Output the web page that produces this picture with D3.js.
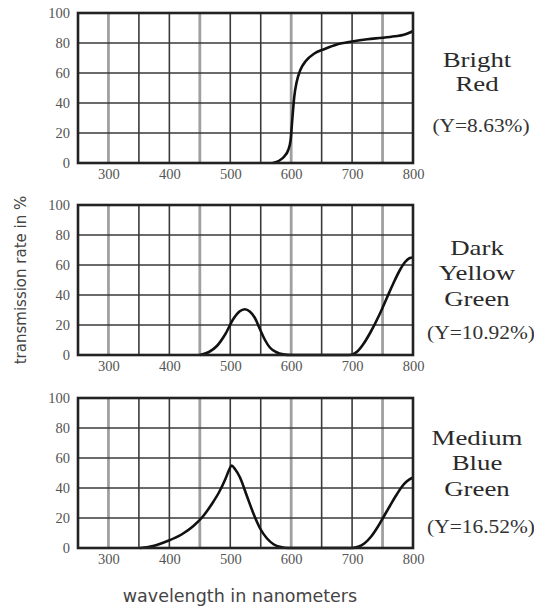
<!DOCTYPE html>
<html>
<head>
<meta charset="utf-8">
<script src="https://cdn.jsdelivr.net/npm/d3@7"></script>
<style>
  body { margin: 0; background: #fff; }
</style>
</head>
<body>
<div id="chart"></div>
<script>
// axis ticks and grid
const xTicks = [300, 400, 500, 600, 700, 800];
const yTicks = [0, 20, 40, 60, 80, 100];
const gridX = [300, 350, 400, 450, 500, 550, 600, 650, 700, 750];
const grayGridX = [300, 450, 600, 750];
const gridY = [20, 40, 60, 80];

// filter names and luminous transmittance
const filterNames = [["Bright", "Red"], ["Dark", "Yellow", "Green"], ["Medium", "Blue", "Green"]];
const filterY = ["(Y=8.63%)", "(Y=10.92%)", "(Y=16.52%)"];

// transmission curves (wavelength nm, transmission %)
const redWl = [570, 580, 589, 595, 599, 602, 605, 609, 615, 624, 638, 655, 675, 700, 725, 750, 770, 785, 795, 800];
const redT  = [0, 1.5, 4.5, 8.5, 15, 30, 44, 54, 62, 68, 73, 76, 79, 81, 82.5, 83.5, 84.5, 85.5, 87, 88];

const dygWl = [450, 465, 478, 492, 505, 515, 524, 532, 540, 549, 557, 565, 575, 587, 600, 650, 695, 702, 709, 718, 730, 745, 757, 768, 779, 787, 794, 800];
const dygT  = [0, 2, 6, 14, 24, 29, 30.5, 29, 25, 17, 10, 5, 2, 0.4, 0, 0, 0, 0.6, 2.5, 7, 15, 27, 38, 48, 57, 62, 64.5, 65];

const mbgWl = [352, 375, 396, 420, 439, 455, 470, 482, 492, 498, 502, 508, 516, 527, 538, 549, 560, 571, 583, 595, 650, 700, 710, 720, 731, 742, 752, 762, 773, 782, 790, 800];
const mbgT  = [0, 1.5, 4.5, 9, 14.5, 21, 29.5, 37.5, 46, 52, 55, 52.5, 47, 35, 23, 13, 6.5, 2.5, 0.6, 0, 0, 0, 0.8, 3, 7.5, 14, 21, 28, 35.5, 41, 44.5, 47];

const series = [
    redWl.map((w, i) => ({ wl: w, t: redT[i] })),
    dygWl.map((w, i) => ({ wl: w, t: dygT[i] })),
    mbgWl.map((w, i) => ({ wl: w, t: mbgT[i] }))
];

const width = 534, height = 610;
const plotLeft = 78, plotRight = 413, panelH = 150;
const panelTops = [13, 205, 398];
const nameBaselines = [[54, 78], [50, 75, 101], [47, 72, 98]];
const yLabelBaselines = [119, 134, 135];

const svg = d3.select("#chart")
    .append("svg")
    .attr("width", width)
    .attr("height", height);

const x = d3.scaleLinear().domain([250, 800]).range([plotLeft, plotRight]);

panelTops.forEach((top, i) => {
    const y = d3.scaleLinear().domain([0, 100]).range([top + panelH, top]);
    const g = svg.append("g");

    // vertical grid
    g.selectAll(".vgrid")
        .data(gridX)
        .join("line")
        .attr("x1", d => x(d)).attr("x2", d => x(d))
        .attr("y1", top).attr("y2", top + panelH)
        .attr("stroke", d => grayGridX.includes(d) ? "#a0a0a0" : "#3a3a3a")
        .attr("stroke-width", d => grayGridX.includes(d) ? 2.8 : 1.6);

    // horizontal grid
    g.selectAll(".hgrid")
        .data(gridY)
        .join("line")
        .attr("x1", plotLeft).attr("x2", plotRight)
        .attr("y1", d => y(d)).attr("y2", d => y(d))
        .attr("stroke", "#3a3a3a")
        .attr("stroke-width", 1.6);

    // curve
    const line = d3.line()
        .x(d => x(d.wl))
        .y(d => y(d.t))
        .curve(d3.curveMonotoneX);

    g.append("path")
        .datum(series[i])
        .attr("fill", "none")
        .attr("stroke", "#111")
        .attr("stroke-width", 2.6)
        .attr("d", line);

    // frame
    g.append("rect")
        .attr("x", plotLeft).attr("y", top)
        .attr("width", plotRight - plotLeft).attr("height", panelH)
        .attr("fill", "none")
        .attr("stroke", "#222")
        .attr("stroke-width", 2.6);

    // axes
    g.append("g")
        .attr("transform", `translate(${plotLeft},0)`)
        .call(d3.axisLeft(y).tickValues(yTicks).tickSize(0).tickPadding(8))
        .call(a => a.select(".domain").remove())
        .selectAll("text")
        .attr("font-family", "Liberation Serif")
        .attr("font-size", "14.5px")
        .attr("fill", "#555");

    g.append("g")
        .attr("transform", `translate(0,${top + panelH})`)
        .call(d3.axisBottom(x).tickValues(xTicks).tickSize(0).tickPadding(6))
        .call(a => a.select(".domain").remove())
        .selectAll("text")
        .attr("font-family", "Liberation Serif")
        .attr("font-size", "14.5px")
        .attr("fill", "#555");

    // filter name, slightly stretched like the original typeset labels
    filterNames[i].forEach((word, j) => {
        svg.append("text")
            .attr("transform", `translate(477,${top + nameBaselines[i][j]}) scale(1.22,1)`)
            .attr("text-anchor", "middle")
            .attr("font-family", "Liberation Serif")
            .attr("font-size", "22px")
            .attr("fill", "#2a2a2a")
            .text(word);
    });

    svg.append("text")
        .attr("transform", `translate(481,${top + yLabelBaselines[i]}) scale(1.1,1)`)
        .attr("text-anchor", "middle")
        .attr("font-family", "Liberation Serif")
        .attr("font-size", "19.5px")
        .attr("fill", "#333")
        .text(filterY[i]);
});

// axis titles
svg.append("text")
    .attr("transform", "translate(26,280) rotate(-90)")
    .attr("text-anchor", "middle")
    .attr("font-family", "DejaVu Sans")
    .attr("font-size", "15px")
    .attr("fill", "#444")
    .text("transmission rate in %");

svg.append("text")
    .attr("x", 240)
    .attr("y", 602)
    .attr("text-anchor", "middle")
    .attr("font-family", "DejaVu Sans")
    .attr("font-size", "17.5px")
    .attr("fill", "#444")
    .text("wavelength in nanometers");
</script>
</body>
</html>
